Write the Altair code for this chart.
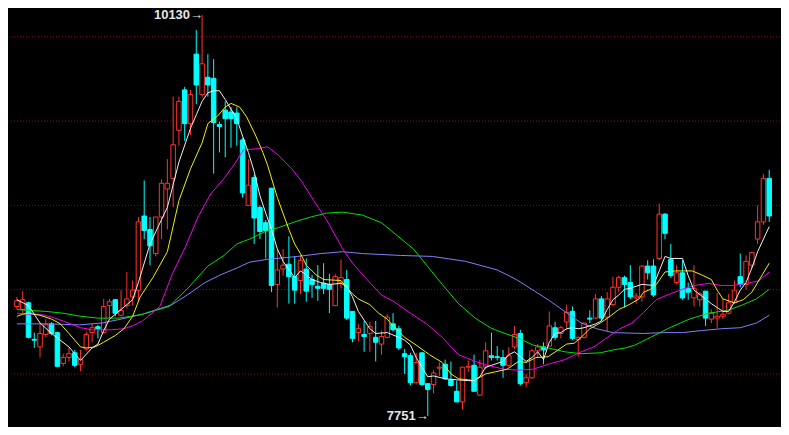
import altair as alt
import pandas as pd

# ---- candle data (index 0..130) ----
opens = [8400, 8382, 8422, 8205, 8160, 8234, 8297, 8245, 8062, 8097,
         8125, 8057, 8148, 8245, 8280, 8245, 8405, 8440, 8348, 8405,
         8457, 8497, 8937, 8857, 8714, 8931, 9097, 9160, 9445, 9685,
         9485, 9897, 9657, 9760, 9754, 9480, 9565, 9554, 9548, 9388,
         9000, 9165, 8988, 8897, 9102, 8531, 8622, 8651, 8577, 8554,
         8622, 8560, 8520, 8537, 8531, 8405, 8542, 8560, 8371, 8245,
         8234, 8240, 8217, 8177, 8217, 8297, 8268, 8120, 8108, 7948,
         8125, 7942, 7937, 8034, 8057, 7965, 7897, 7834, 8040, 8051,
         7874, 8040, 8108, 8102, 8097, 8051, 8160, 8240, 7948, 7977,
         8137, 8160, 8165, 8274, 8240, 8308, 8371, 8205, 8217, 8331,
         8331, 8445, 8337, 8411, 8514, 8571, 8542, 8451, 8457, 8640,
         8640, 8685, 8948, 8680, 8542, 8600, 8508, 8451, 8440, 8491,
         8325, 8331, 8342, 8360, 8422, 8577, 8531, 8645, 8800, 8902,
         9160]
closes = [8434, 8440, 8217, 8200, 8240, 8291, 8240, 8045, 8097, 8120,
          8051, 8085, 8234, 8274, 8268, 8400, 8428, 8360, 8377, 8445,
          8497, 8902, 8851, 8760, 8931, 9131, 9131, 9360, 9617, 9485,
          9657, 9714, 9840, 9714, 9491, 9468, 9514, 9514, 9485, 9074,
          9120, 8925, 8845, 8851, 8525, 8617, 8645, 8577, 8497, 8674,
          8491, 8531, 8508, 8508, 8502, 8577, 8571, 8331, 8211, 8268,
          8222, 8280, 8188, 8222, 8337, 8262, 8154, 8102, 7948, 8068,
          7937, 7908, 8005, 8040, 7971, 7931, 7834, 8040, 8045, 7897,
          8040, 8137, 8097, 8097, 8051, 8108, 8234, 7942, 7977, 8137,
          8160, 8142, 8285, 8217, 8274, 8365, 8211, 8217, 8302, 8325,
          8445, 8331, 8445, 8514, 8571, 8531, 8457, 8462, 8640, 8600,
          8468, 8948, 8834, 8583, 8600, 8451, 8485, 8508, 8474, 8331,
          8360, 8342, 8354, 8422, 8497, 8531, 8668, 8720, 8902, 9160,
          8937]
highs = [8457, 8491, 8428, 8245, 8297, 8325, 8308, 8251, 8120, 8154,
         8142, 8142, 8251, 8297, 8291, 8445, 8445, 8445, 8497, 8605,
         8554, 8931, 9148, 8931, 8931, 9154, 9274, 9645, 9645, 9703,
         9685, 10040, 10130, 9897, 9868, 9497, 9617, 9583, 9583, 9400,
         9274, 9183, 9000, 8914, 9102, 8742, 8742, 8817, 8697, 8708,
         8685, 8588, 8645, 8657, 8594, 8594, 8680, 8617, 8371, 8297,
         8314, 8308, 8314, 8257, 8354, 8360, 8285, 8148, 8125, 8125,
         8131, 7942, 8022, 8068, 8085, 8074, 7960, 8040, 8080, 8114,
         8085, 8188, 8245, 8165, 8142, 8160, 8285, 8262, 8000, 8148,
         8177, 8188, 8371, 8308, 8285, 8411, 8400, 8222, 8302, 8377,
         8474, 8462, 8485, 8577, 8583, 8583, 8645, 8480, 8645, 8674,
         8680, 9011, 8954, 8771, 8645, 8674, 8542, 8645, 8485, 8491,
         8382, 8480, 8445, 8474, 8554, 8714, 8703, 8720, 9000, 9188,
         9211]
lows = [8382, 8360, 8211, 8154, 8097, 8217, 8228, 8040, 8045, 8074,
        8040, 8017, 8137, 8188, 8211, 8240, 8331, 8342, 8342, 8388,
        8405, 8428, 8800, 8645, 8697, 8800, 8857, 8988, 9354, 9382,
        9417, 9600, 9645, 9645, 9188, 9314, 9285, 9342, 9354, 9045,
        9000, 8771, 8800, 8685, 8485, 8394, 8583, 8417, 8417, 8474,
        8428, 8451, 8434, 8474, 8360, 8405, 8508, 8320, 8188, 8194,
        8131, 8131, 8074, 8114, 8211, 8251, 8142, 8000, 7931, 7942,
        7931, 7751, 7885, 7988, 7965, 7925, 7834, 7788, 8011, 7897,
        7874, 8028, 8080, 8080, 7977, 8040, 8148, 7931, 7920, 7971,
        8097, 8057, 8165, 8200, 8211, 8262, 8200, 8102, 8211, 8302,
        8325, 8314, 8251, 8400, 8485, 8394, 8445, 8417, 8428, 8560,
        8457, 8674, 8800, 8571, 8531, 8440, 8440, 8400, 8400, 8285,
        8302, 8274, 8325, 8354, 8417, 8514, 8502, 8628, 8771, 8885,
        8902]

# ---- moving-average lines, read at sample positions (candle index, value) ----
ma5_x = [0, 2, 4, 6, 9, 11, 13, 14, 15, 16, 18, 20, 21, 23, 26, 28, 30, 31, 32, 33,
         34, 35, 36, 38, 39, 40, 41, 42, 43, 44, 45, 46, 48, 49, 50, 51, 52.5, 54, 56, 57,
         58, 59, 61, 62, 64, 66, 67, 68, 69, 70, 71, 72, 74, 76, 78, 79, 80, 81, 82, 84,
         85, 86, 88, 89, 90, 91, 92, 93, 94, 95, 96, 97, 98, 100, 101, 102, 103, 104, 105, 106,
         107, 108, 110, 111, 112, 113, 115, 116, 117, 119, 120, 122, 123, 124, 125, 126, 127, 128, 130]
ma5_v = [8440, 8405, 8302, 8240, 8160, 8080, 8154, 8177, 8257, 8325, 8382, 8440, 8543, 8771, 8988, 9257, 9457, 9537, 9617, 9668,
         9680, 9680, 9628, 9514, 9411, 9314, 9200, 9057, 8954, 8857, 8742, 8668, 8571, 8611, 8588, 8560, 8542, 8531, 8537, 8520,
         8457, 8371, 8268, 8240, 8245, 8217, 8200, 8171, 8097, 8040, 7983, 7988, 7971, 7965, 7960, 7960, 7983, 8040, 8051, 8074,
         8114, 8131, 8074, 8097, 8131, 8085, 8188, 8240, 8245, 8268, 8274, 8268, 8274, 8297, 8314, 8382, 8440, 8468, 8502, 8508,
         8520, 8531, 8525, 8611, 8697, 8685, 8685, 8583, 8497, 8445, 8417, 8371, 8371, 8428, 8497, 8543, 8628, 8725, 8874]

ma10_x = [0, 1, 2, 4, 6, 7.5, 9, 11, 12, 13.5, 15, 17, 18.5, 20, 21.3, 23.5, 26, 28, 30, 32,
          33, 34.7, 36, 37, 38.5, 39.7, 41.3, 42.5, 43.3, 45, 47, 48, 49, 50, 51.7, 53, 56, 57, 58, 59,
          61, 62.5, 64, 64.7, 67, 69, 71.3, 73.5, 75, 76.3, 78, 79, 81, 82.5, 84.7, 86.7, 88, 89.7, 91.8, 93.5,
          95, 96.3, 97.5, 99, 100.8, 102.5, 104, 105.8, 107.5, 108.3, 109.5, 110.5, 112, 113.8, 116.7, 118.3, 120, 121, 122, 124,
          125.5, 127, 128.8, 130]
ma10_v = [8342, 8354, 8360, 8348, 8325, 8297, 8240, 8160, 8154, 8160, 8188, 8228, 8268, 8342, 8457, 8571, 8725, 9028, 9217, 9371,
          9485, 9531, 9583, 9605, 9583, 9525, 9411, 9314, 9240, 9047, 8857, 8771, 8714, 8645, 8588, 8560, 8554, 8514, 8474, 8445,
          8411, 8360, 8325, 8297, 8217, 8171, 8114, 8068, 8000, 7971, 7965, 7960, 8000, 8011, 8028, 8074, 8068, 8097, 8102, 8142,
          8177, 8182, 8217, 8268, 8302, 8342, 8382, 8411, 8445, 8485, 8502, 8531, 8605, 8611, 8611, 8588, 8560, 8497, 8445, 8422,
          8440, 8485, 8588, 8657]

ma20_x = [0, 2, 4, 6, 8, 11, 13, 16.3, 18.5, 20, 21.7, 24.7, 26.8, 29.2, 31.3, 33.5, 35.8, 37.5, 39.2, 40,
          41.8, 43.3, 45.2, 47.5, 49.2, 51.3, 53.5, 56.3, 58, 60.2, 63, 65.2, 68, 70.8, 73.5, 76.3, 79.2, 81.3, 84.2, 86.7,
          89.2, 91.8, 94.7, 97.5, 99.7, 101.8, 104.2, 106.3, 108.3, 110.5, 112.8, 115, 117.2, 119.5, 121.7, 123.8, 126.2, 128.3, 130]
ma20_v = [8360, 8354, 8354, 8337, 8314, 8274, 8262, 8262, 8268, 8285, 8314, 8400, 8588, 8760, 8931, 9068, 9160, 9240, 9331, 9331,
          9337, 9348, 9297, 9217, 9143, 9028, 8914, 8742, 8657, 8571, 8468, 8428, 8360, 8297, 8217, 8114, 8074, 8051, 8028, 8022,
          8028, 8057, 8085, 8131, 8160, 8211, 8268, 8302, 8365, 8440, 8474, 8502, 8525, 8537, 8525, 8525, 8537, 8554, 8605]

ma40_x = [0, 2, 5, 8, 11, 14, 17.5, 19.7, 21.7, 26.3, 29.7, 33, 35.8, 38, 40.2, 43.3, 45.2, 48, 50.8, 53.5,
          56.3, 59.7, 63, 68.5, 70.8, 73.5, 76.3, 79.2, 81.8, 83, 86.7, 89.2, 91.8, 94.7, 97.5, 100.8, 103, 105.2, 106.8, 109.5,
          112.8, 116.2, 119.5, 122.8, 125.5, 127.8, 130]
ma40_v = [8382, 8377, 8371, 8360, 8342, 8331, 8331, 8342, 8354, 8400, 8514, 8640, 8703, 8771, 8800, 8851, 8868, 8902, 8931, 8954,
          8960, 8942, 8897, 8742, 8645, 8531, 8417, 8331, 8274, 8257, 8211, 8171, 8154, 8131, 8120, 8125, 8142, 8154, 8171, 8217,
          8274, 8325, 8360, 8377, 8411, 8445, 8502]

ma60_x = [0, 5.2, 10.8, 14.7, 18, 21.7, 26.8, 29.7, 32.5, 35.2, 38, 40.2, 43.3, 48.5, 52.5, 56.3, 59.7, 66.3, 71.8, 77.5,
          83, 86.3, 91.8, 97.5, 100.2, 103, 108.3, 111.7, 115, 118.3, 121.7, 125, 127.8, 130]
ma60_v = [8297, 8297, 8291, 8302, 8325, 8354, 8411, 8474, 8542, 8588, 8628, 8663, 8680, 8697, 8714, 8725, 8714, 8703, 8697, 8668,
          8617, 8560, 8440, 8302, 8268, 8245, 8240, 8245, 8245, 8257, 8268, 8274, 8302, 8348]

grid_levels = [8000, 8500, 9000, 9500, 10000]

ann_idx = [32, 71]
ann_val = [10130, 7751]
ann_txt = ["10130\u2192", "7751\u2192"]

# ---- tables ----
candles = pd.DataFrame({"i": list(range(len(opens))), "open": opens, "close": closes,
                        "high": highs, "low": lows})
candles["dir"] = ["up" if c >= o else "down" for o, c in zip(opens, closes)]

W, H = 773, 419
xs = alt.Scale(domain=[-0.5, 131.0], nice=False, zero=False)
ys = alt.Scale(domain=[7685, 10171], nice=False, zero=False)
dir_scale = alt.Scale(domain=["up", "down"], range=["#FF3232", "#00FFFF"])

grid = alt.Chart(pd.DataFrame({"g": grid_levels})).mark_rule(
    color="#A00000", strokeWidth=1, strokeDash=[1, 2]
).encode(y=alt.Y("g:Q", scale=ys, axis=None))

base = alt.Chart(candles)
wicks = base.mark_rule(strokeWidth=1).encode(
    x=alt.X("i:Q", scale=xs, axis=None),
    y=alt.Y("low:Q", scale=ys, axis=None),
    y2="high:Q",
    color=alt.Color("dir:N", scale=dir_scale, legend=None),
)
up_bodies = base.transform_filter(alt.datum.dir == "up").mark_bar(
    size=4.5, fill="black", stroke="#FF3232", strokeWidth=1
).encode(
    x=alt.X("i:Q", scale=xs, axis=None),
    y=alt.Y("open:Q", scale=ys, axis=None),
    y2="close:Q",
)
down_bodies = base.transform_filter(alt.datum.dir == "down").mark_bar(
    size=4.5, fill="#00FFFF", stroke="#00FFFF", strokeWidth=1
).encode(
    x=alt.X("i:Q", scale=xs, axis=None),
    y=alt.Y("open:Q", scale=ys, axis=None),
    y2="close:Q",
)


def ma_layer(xv, vv, color):
    df = pd.DataFrame({"i": xv[:len(vv)], "v": vv[:len(xv)]})
    return alt.Chart(df).mark_line(color=color, strokeWidth=1).encode(
        x=alt.X("i:Q", scale=xs, axis=None),
        y=alt.Y("v:Q", scale=ys, axis=None),
        order="i:Q",
    )


lines = [
    ma_layer(ma60_x, ma60_v, "#8080FF"),
    ma_layer(ma40_x, ma40_v, "#00E000"),
    ma_layer(ma20_x, ma20_v, "#F000F0"),
    ma_layer(ma10_x, ma10_v, "#F0F000"),
    ma_layer(ma5_x, ma5_v, "#F0F0F0"),
]

ann = alt.Chart(pd.DataFrame({"i": ann_idx, "v": ann_val, "t": ann_txt})).mark_text(
    align="right", baseline="middle", dx=1, font="Liberation Sans",
    fontSize=13, fontWeight="bold", color="#E6E6E6"
).encode(
    x=alt.X("i:Q", scale=xs, axis=None),
    y=alt.Y("v:Q", scale=ys, axis=None),
    text="t:N",
)

chart = alt.layer(grid, wicks, up_bodies, down_bodies, *lines, ann).properties(
    width=W, height=H, background="black", padding=0,
    autosize=alt.AutoSizeParams(type="fit", contains="padding"),
).configure_view(stroke=None)

chart.save("out.html", embed_options={"renderer": "svg", "actions": False})
